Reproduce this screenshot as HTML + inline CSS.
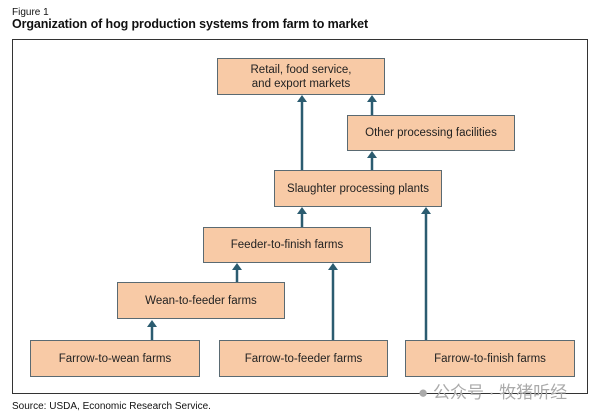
<!DOCTYPE html>
<html><head><style>
body{margin:0;width:600px;height:416px;background:#fff;position:relative;font-family:"Liberation Sans","Noto Sans CJK SC",sans-serif;overflow:hidden}
.t{position:absolute;white-space:nowrap;color:#111}
.b{position:absolute;background:#f8caa6;border:1.5px solid #5a6a72;box-sizing:border-box;display:flex;align-items:center;justify-content:center;text-align:center;font-size:11.5px;color:#222;line-height:14px}
</style></head><body>
<div class="t" style="left:12px;top:7px;font-size:10px">Figure 1</div>
<div class="t" style="left:12px;top:17px;font-size:12.5px;font-weight:bold;letter-spacing:-0.1px">Organization of hog production systems from farm to market</div>
<div style="position:absolute;left:12px;top:39px;width:576px;height:355px;border:1px solid #333;box-sizing:border-box"></div>
<svg width="600" height="416" style="position:absolute;left:0;top:0">
<g stroke="#2b5c70" stroke-width="2.5" fill="#2b5c70">
<line x1="302" y1="170" x2="302" y2="100"/><polygon points="297,102 307,102 302,95" stroke="none"/>
<line x1="372" y1="115" x2="372" y2="100"/><polygon points="367,102 377,102 372,95" stroke="none"/>
<line x1="372" y1="170" x2="372" y2="156"/><polygon points="367,158 377,158 372,151" stroke="none"/>
<line x1="302" y1="227" x2="302" y2="212"/><polygon points="297,214 307,214 302,207" stroke="none"/>
<line x1="237" y1="282" x2="237" y2="268"/><polygon points="232,270 242,270 237,263" stroke="none"/>
<line x1="152" y1="340" x2="152" y2="325"/><polygon points="147,327 157,327 152,320" stroke="none"/>
<line x1="333" y1="340" x2="333" y2="268"/><polygon points="328,270 338,270 333,263" stroke="none"/>
<line x1="426" y1="340" x2="426" y2="212"/><polygon points="421,214 431,214 426,207" stroke="none"/>
</g></svg>
<div class="b" style="left:217px;top:58px;width:168px;height:37px">Retail, food service,<br>and export markets</div>
<div class="b" style="left:347px;top:115px;width:168px;height:36px">Other processing facilities</div>
<div class="b" style="left:274px;top:170px;width:168px;height:37px">Slaughter processing plants</div>
<div class="b" style="left:203px;top:227px;width:168px;height:36px">Feeder-to-finish farms</div>
<div class="b" style="left:117px;top:282px;width:168px;height:37px">Wean-to-feeder farms</div>
<div class="b" style="left:30px;top:340px;width:170px;height:37px">Farrow-to-wean farms</div>
<div class="b" style="left:219px;top:340px;width:169px;height:37px">Farrow-to-feeder farms</div>
<div class="b" style="left:405px;top:340px;width:170px;height:37px">Farrow-to-finish farms</div>
<div class="t" style="left:418px;top:378px;font-size:17px;color:#aaa">● 公众号 · 牧猪听经</div>
<div class="t" style="left:12px;top:401px;font-size:10px">Source: USDA, Economic Research Service.</div>
</body></html>
